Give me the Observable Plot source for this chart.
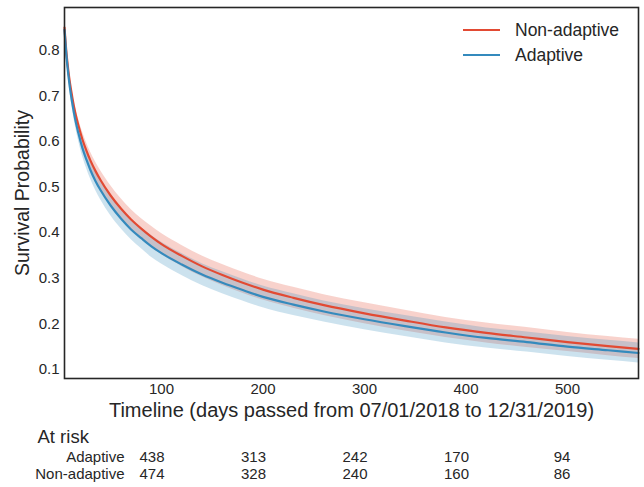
<!DOCTYPE html>
<html><head><meta charset="utf-8">
<script src="https://cdn.jsdelivr.net/npm/d3@7"></script>
<script src="https://cdn.jsdelivr.net/npm/@observablehq/plot@0.6"></script>
<style>
body{margin:0;background:#fff;}
#wrap{position:relative;width:644px;height:487px;font-family:"Liberation Sans",Arial,sans-serif;color:#262626;overflow:hidden;}
#wrap svg{display:block;}
#legend{position:absolute;left:455px;top:16px;}
</style></head><body><div id="wrap"><div id="legend"></div></div>
<script>
const times = [4.4, 6, 8, 10, 12, 15, 18, 22, 26, 30, 35, 40, 50, 60, 70, 80, 90, 100, 120, 140, 160, 180, 200, 230, 260, 300, 340, 380, 420, 460, 500, 540, 570];
const nonAdaptive = [0.850, 0.803, 0.759, 0.725, 0.698, 0.663, 0.636, 0.605, 0.580, 0.558, 0.535, 0.515, 0.481, 0.453, 0.429, 0.409, 0.391, 0.375, 0.349, 0.326, 0.307, 0.290, 0.275, 0.257, 0.241, 0.223, 0.207, 0.192, 0.180, 0.170, 0.160, 0.151, 0.145];
const adaptive = [0.845, 0.796, 0.750, 0.714, 0.685, 0.648, 0.619, 0.586, 0.560, 0.537, 0.513, 0.493, 0.459, 0.431, 0.407, 0.388, 0.370, 0.355, 0.330, 0.308, 0.290, 0.274, 0.259, 0.242, 0.227, 0.210, 0.195, 0.181, 0.169, 0.160, 0.150, 0.142, 0.136];
const ciHalfNonAdaptive = [0.004, 0.006, 0.008, 0.010, 0.011, 0.013, 0.015, 0.017, 0.018, 0.019, 0.020, 0.021, 0.022, 0.022, 0.022, 0.022, 0.023, 0.023, 0.023, 0.023, 0.023, 0.023, 0.023, 0.023, 0.023, 0.023, 0.023, 0.022, 0.022, 0.022, 0.021, 0.021, 0.021];
const ciHalfAdaptive = [0.004, 0.006, 0.008, 0.010, 0.011, 0.013, 0.015, 0.017, 0.018, 0.019, 0.020, 0.021, 0.022, 0.022, 0.022, 0.023, 0.024, 0.024, 0.024, 0.024, 0.024, 0.024, 0.024, 0.024, 0.023, 0.023, 0.023, 0.023, 0.022, 0.022, 0.022, 0.022, 0.022];
const xTicks = [100, 200, 300, 400, 500];
const yTicks = [0.1, 0.2, 0.3, 0.4, 0.5, 0.6, 0.7, 0.8];
const groups = ["Adaptive", "Non-adaptive"];
const atRiskAdaptive = [438, 313, 242, 170, 94];
const atRiskNonAdaptive = [474, 328, 240, 160, 86];
const xLabel = "Timeline (days passed from 07/01/2018 to 12/31/2019)";
const yLabel = "Survival Probability";

const RED = "#E24A33", BLUE = "#348ABD", INK = "#262626";
const FONT = '"Liberation Sans", Arial, sans-serif';
const X_DOMAIN = [4.4, 570];

const mk = (vals, ci) => times.map((t, i) => ({t, s: vals[i], lo: vals[i] - ci[i], hi: vals[i] + ci[i]}));
const redData = mk(nonAdaptive, ciHalfNonAdaptive);
const blueData = mk(adaptive, ciHalfAdaptive);

const main = Plot.plot({
  width: 644, height: 420,
  marginTop: 7, marginRight: 6, marginBottom: 42, marginLeft: 64,
  style: {fontFamily: FONT, fontSize: "15px", color: INK, background: "white", overflow: "visible"},
  x: {domain: X_DOMAIN, ticks: xTicks, tickSize: 0, tickPadding: 5, label: null},
  y: {domain: [0.080, 0.894], ticks: yTicks, tickSize: 0, tickPadding: 5, label: null, tickFormat: d3.format(".1f")},
  marks: [
    Plot.areaY(redData, {x: "t", y1: "lo", y2: "hi", fill: RED, fillOpacity: 0.25, curve: "monotone-x"}),
    Plot.areaY(blueData, {x: "t", y1: "lo", y2: "hi", fill: BLUE, fillOpacity: 0.25, curve: "monotone-x"}),
    Plot.lineY(redData, {x: "t", y: "s", stroke: RED, strokeWidth: 2.2, curve: "monotone-x"}),
    Plot.lineY(blueData, {x: "t", y: "s", stroke: BLUE, strokeWidth: 2.2, curve: "monotone-x"}),
    Plot.frame({stroke: INK, strokeWidth: 1.6}),
    Plot.text([xLabel], {frameAnchor: "bottom", dy: 32, fontSize: 20, fill: INK, lineAnchor: "middle", textAnchor: "middle"}),
    Plot.text([yLabel], {frameAnchor: "left", dx: -42, rotate: -90, fontSize: 19.5, fill: INK, lineAnchor: "middle", textAnchor: "middle"})
  ]
});

const atRiskRows = [];
xTicks.forEach((t, i) => {
  atRiskRows.push({t, g: "Adaptive", n: atRiskAdaptive[i]});
  atRiskRows.push({t, g: "Non-adaptive", n: atRiskNonAdaptive[i]});
});

const table = Plot.plot({
  width: 644, height: 67,
  marginTop: 0, marginRight: 6, marginBottom: 0, marginLeft: 64,
  style: {fontFamily: FONT, fontSize: "15px", color: INK, background: "white", overflow: "visible"},
  x: {domain: X_DOMAIN, axis: null},
  y: {type: "point", domain: groups, range: [37, 54], padding: 0, axis: null},
  marks: [
    Plot.text(["At risk"], {frameAnchor: "top-left", dx: -27, dy: 17, textAnchor: "start", lineAnchor: "middle", fontSize: 18.5, fill: INK}),
    Plot.text(groups, {x: () => xTicks[0], y: d => d, text: d => d, textAnchor: "end", dx: -37, fontSize: 15, fill: INK, lineAnchor: "middle"}),
    Plot.text(atRiskRows, {x: "t", y: "g", text: d => String(d.n), textAnchor: "end", dx: 3, fontSize: 15, fill: INK, lineAnchor: "middle"})
  ]
});

const wrap = document.getElementById("wrap");
wrap.insertBefore(main, wrap.firstChild);
wrap.insertBefore(table, document.getElementById("legend"));

// legend
const legendItems = [{label: "Non-adaptive", color: RED}, {label: "Adaptive", color: BLUE}];
const lsvg = d3.select("#legend").append("svg").attr("width", 180).attr("height", 56);
legendItems.forEach((d, i) => {
  const y = 14 + i * 25;
  lsvg.append("line").attr("x1", 8).attr("x2", 45).attr("y1", y).attr("y2", y)
    .attr("stroke", d.color).attr("stroke-width", 2.2);
  lsvg.append("text").attr("x", 60).attr("y", y).attr("dy", "0.35em")
    .attr("font-family", FONT).attr("font-size", 17.5).attr("fill", INK).text(d.label);
});
</script></body></html>
